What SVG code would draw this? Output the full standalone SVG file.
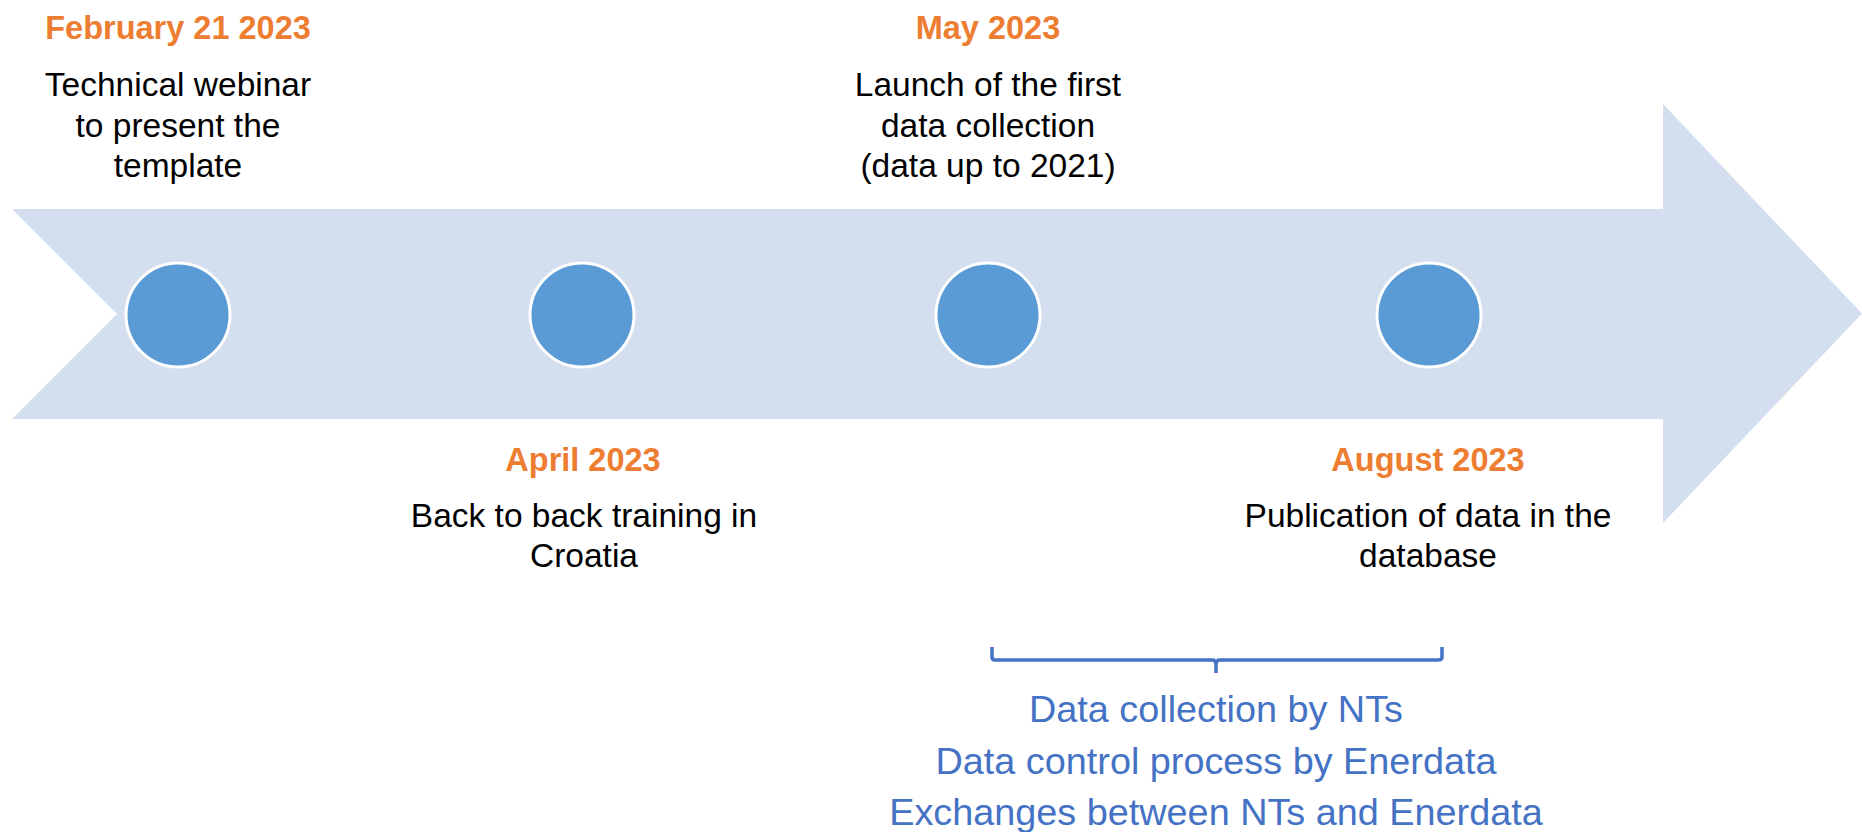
<svg xmlns="http://www.w3.org/2000/svg" width="1862" height="832" viewBox="0 0 1862 832">
<style>
.date{font-family:"Liberation Sans",Arial,sans-serif;font-weight:bold;font-size:32.5px;fill:#ED7D31;text-anchor:middle}
.desc{font-family:"Liberation Sans",Arial,sans-serif;font-size:33.5px;fill:#000;text-anchor:middle}
.note{font-family:"Liberation Sans",Arial,sans-serif;font-size:37.8px;fill:#4472C4;text-anchor:middle}
.dot{fill:#5B9BD5;stroke:#fff;stroke-width:3}
</style>
<rect width="1862" height="832" fill="#fff"/>
<g id="timeline-arrow">
<path d="M12,209 L1663,209 L1663,104 L1862,313.5 L1663,523 L1663,419 L12,419 L117,314 Z" fill="#D3DEEF"/>
</g>
<g id="connectors">
<path d="M992,647 L992,657 Q992,660 995,660 L1212,660 Q1216,660 1216,664 L1216,673 M1216,664 Q1216,660 1220,660 L1438,660 Q1442,660 1442,657 L1442,647" fill="none" stroke="#4472C4" stroke-width="3.5"/>
</g>
<g id="node-feb">
<circle class="dot" cx="178" cy="315" r="52"/>
<text class="date" x="178" y="39">February 21 2023</text>
<text class="desc" x="178" y="96">Technical webinar</text>
<text class="desc" x="178" y="136.5">to present the</text>
<text class="desc" x="178" y="177">template</text>
</g>
<g id="node-apr">
<circle class="dot" cx="582" cy="315" r="52"/>
<text class="date" x="583" y="471">April 2023</text>
<text class="desc" x="584" y="527">Back to back training in</text>
<text class="desc" x="584" y="567">Croatia</text>
</g>
<g id="node-may">
<circle class="dot" cx="988" cy="315" r="52"/>
<text class="date" x="988" y="39">May 2023</text>
<text class="desc" x="988" y="96">Launch of the first</text>
<text class="desc" x="988" y="136.5">data collection</text>
<text class="desc" x="988" y="177">(data up to 2021)</text>
</g>
<g id="node-aug">
<circle class="dot" cx="1429" cy="315" r="52"/>
<text class="date" x="1428" y="471">August 2023</text>
<text class="desc" x="1428" y="527">Publication of data in the</text>
<text class="desc" x="1428" y="567">database</text>
</g>
<g id="node-notes">
<text class="note" x="1216" y="722">Data collection by NTs</text>
<text class="note" x="1216" y="773.5">Data control process by Enerdata</text>
<text class="note" x="1216" y="825">Exchanges between NTs and Enerdata</text>
</g>
</svg>
